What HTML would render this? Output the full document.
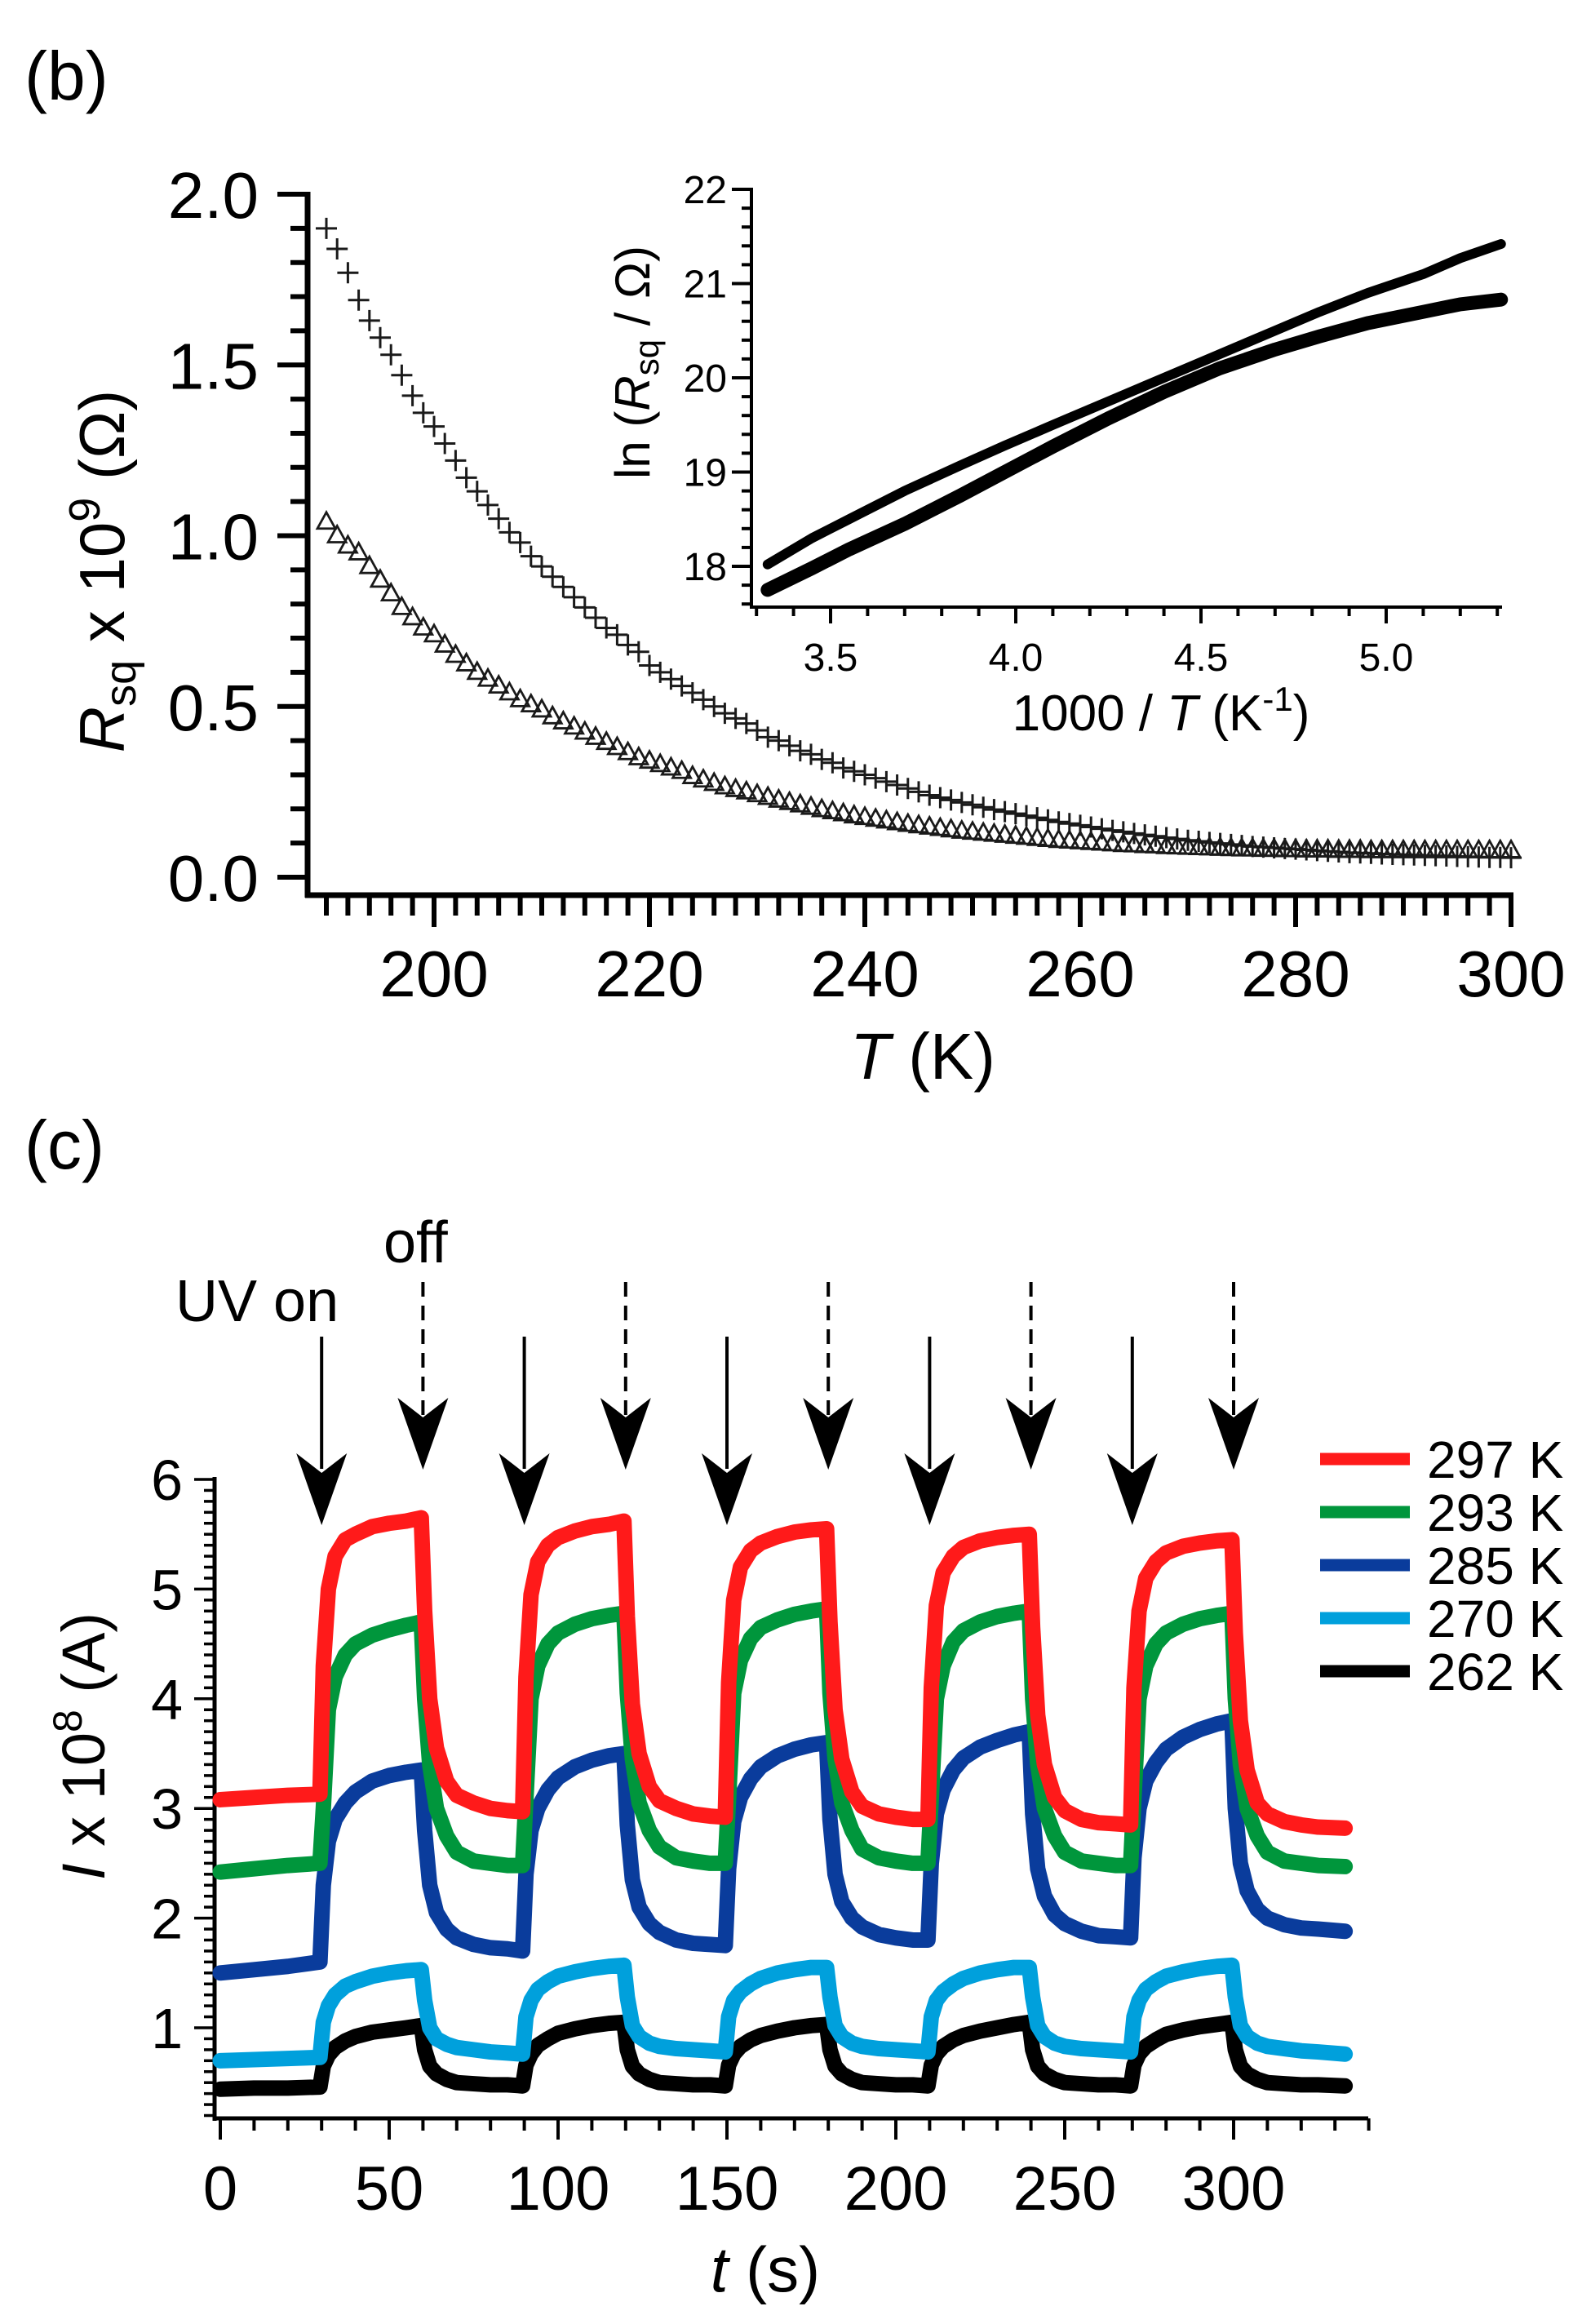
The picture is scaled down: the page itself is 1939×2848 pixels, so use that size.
<!DOCTYPE html>
<html><head><meta charset="utf-8">
<style>
html,body{margin:0;padding:0;background:#fff;}
svg{display:block;font-family:"Liberation Sans",Arial,sans-serif;}
</style></head>
<body>
<svg id="fig" width="1939" height="2848" viewBox="0 0 1939 2848" xmlns="http://www.w3.org/2000/svg">
<rect width="1939" height="2848" fill="#fff"/>
<text x="30" y="122" font-size="84">(b)</text>
<text x="30" y="1432" font-size="84">(c)</text>
<g id="main"></g>
<g id="inset"></g>
<g id="bottom"></g>
</svg>
<script>
// ---------- Panel (b) main data ----------
const mainT = [];
for (let t = 190; t <= 300; t++) mainT.push(t);
const plusR = [1.90,1.84,1.77,1.69,1.63,1.58,1.53,1.47,1.41,1.36,1.32,1.27,1.22,1.17,1.13,1.09,1.05,1.01,0.98,0.94,0.91,0.88,0.85,0.82,0.79,0.76,0.73,0.71,0.68,0.66,0.62,0.60,0.58,0.56,0.54,0.52,0.50,0.48,0.465,0.45,0.43,0.41,0.40,0.385,0.37,0.36,0.345,0.335,0.32,0.31,0.30,0.29,0.28,0.27,0.26,0.25,0.24,0.233,0.226,0.219,0.212,0.205,0.198,0.192,0.186,0.18,0.174,0.168,0.162,0.157,0.152,0.147,0.142,0.137,0.133,0.128,0.124,0.12,0.116,0.112,0.108,0.105,0.102,0.099,0.096,0.093,0.09,0.088,0.086,0.084,0.082,0.08,0.078,0.076,0.074,0.072,0.071,0.07,0.068,0.067,0.066,0.065,0.064,0.063,0.062,0.061,0.06,0.059,0.058,0.058,0.057];
const triR = [1.04,1.00,0.97,0.95,0.91,0.87,0.83,0.79,0.76,0.73,0.71,0.68,0.65,0.625,0.60,0.58,0.56,0.54,0.52,0.505,0.49,0.47,0.455,0.44,0.425,0.41,0.395,0.38,0.365,0.35,0.34,0.33,0.32,0.31,0.295,0.285,0.275,0.265,0.257,0.25,0.242,0.234,0.226,0.219,0.212,0.205,0.198,0.192,0.186,0.18,0.175,0.17,0.165,0.16,0.155,0.151,0.147,0.143,0.139,0.135,0.132,0.129,0.126,0.123,0.12,0.117,0.114,0.111,0.108,0.106,0.104,0.102,0.1,0.098,0.096,0.095,0.093,0.092,0.09,0.089,0.088,0.087,0.086,0.085,0.084,0.083,0.083,0.082,0.082,0.081,0.081,0.08,0.08,0.08,0.079,0.079,0.079,0.078,0.078,0.078,0.078,0.078,0.078,0.078,0.078,0.078,0.078,0.078,0.078,0.078,0.078];
const mainXTicks = ["200","220","240","260","280","300"];
const mainYTicks = ["0.0","0.5","1.0","1.5","2.0"];

// ---------- Panel (b) inset data ----------
const insetX = [3.33,3.45,3.55,3.7,3.85,3.97,4.1,4.25,4.4,4.55,4.7,4.82,4.95,5.1,5.2,5.31];
const insetPlus = [18.02,18.3,18.5,18.8,19.07,19.28,19.5,19.75,20.0,20.25,20.5,20.7,20.9,21.1,21.27,21.42];
const insetTri = [17.75,17.98,18.18,18.45,18.75,19.0,19.27,19.57,19.85,20.1,20.3,20.44,20.58,20.7,20.78,20.83];
const insetXTicks = ["3.5","4.0","4.5","5.0"];
const insetYTicks = ["18","19","20","21","22"];

// ---------- Panel (c) data ----------
const times = [0,10,20,29.5,
30.5,32,34,37,40,45,50,55,59.5, 60.5,62,64,67,70,75,80,85,89.5,
90.5,92,94,97,100,105,110,115,119.5, 120.5,122,124,127,130,135,140,145,149.5,
150.5,152,154,157,160,165,170,175,179.5, 180.5,182,184,187,190,195,200,205,209.5,
210.5,212,214,217,220,225,230,235,239.5, 240.5,242,244,247,250,255,260,265,269.5,
270.5,272,274,277,280,285,290,295,299.5, 300.5,302,304,307,310,315,320,325,333];
const i297 = [3.08,3.1,3.12,3.13,
4.3,5.0,5.3,5.45,5.5,5.57,5.6,5.62,5.65, 4.8,4.0,3.55,3.25,3.12,3.05,3.0,2.98,2.97,
4.2,4.95,5.25,5.4,5.47,5.53,5.57,5.59,5.62, 4.75,3.95,3.5,3.2,3.07,3.0,2.95,2.93,2.92,
4.15,4.9,5.2,5.35,5.42,5.48,5.52,5.54,5.55, 4.7,3.9,3.45,3.15,3.02,2.95,2.92,2.9,2.9,
4.1,4.85,5.15,5.3,5.38,5.44,5.47,5.49,5.5, 4.65,3.85,3.4,3.1,2.98,2.9,2.87,2.86,2.85,
4.1,4.8,5.1,5.25,5.33,5.39,5.42,5.44,5.45, 4.6,3.8,3.35,3.05,2.95,2.88,2.85,2.83,2.82];
const i293 = [2.42,2.45,2.48,2.5,
3.0,3.9,4.2,4.4,4.5,4.58,4.63,4.67,4.7, 4.0,3.4,3.0,2.75,2.6,2.52,2.5,2.48,2.48,
3.1,4.0,4.3,4.5,4.6,4.68,4.73,4.76,4.78, 4.05,3.45,3.05,2.8,2.65,2.55,2.52,2.5,2.5,
3.1,4.05,4.35,4.55,4.65,4.72,4.77,4.8,4.82, 4.05,3.45,3.05,2.8,2.63,2.55,2.52,2.5,2.5,
3.1,4.0,4.3,4.52,4.62,4.7,4.75,4.78,4.8, 4.0,3.4,3.0,2.75,2.6,2.52,2.5,2.48,2.48,
3.1,4.0,4.3,4.5,4.6,4.68,4.73,4.76,4.78, 4.0,3.4,3.0,2.75,2.6,2.52,2.5,2.48,2.47];
const i285 = [1.5,1.53,1.56,1.6,
2.3,2.7,2.9,3.05,3.15,3.25,3.3,3.33,3.35, 2.8,2.3,2.05,1.9,1.82,1.76,1.73,1.72,1.7,
2.4,2.8,3.0,3.17,3.28,3.38,3.44,3.48,3.5, 2.85,2.35,2.1,1.95,1.87,1.8,1.77,1.76,1.75,
2.45,2.88,3.1,3.27,3.38,3.48,3.54,3.58,3.6, 2.9,2.4,2.15,2.0,1.92,1.85,1.82,1.8,1.8,
2.5,2.95,3.17,3.35,3.46,3.56,3.62,3.67,3.7, 2.95,2.45,2.2,2.03,1.95,1.88,1.84,1.83,1.82,
2.55,3.0,3.25,3.42,3.54,3.65,3.72,3.77,3.8, 3.0,2.5,2.25,2.08,2.0,1.94,1.91,1.9,1.88];
const i270 = [0.7,0.71,0.72,0.73,
1.05,1.2,1.3,1.38,1.42,1.47,1.5,1.52,1.53, 1.25,1.0,0.9,0.85,0.82,0.8,0.78,0.77,0.76,
1.1,1.25,1.35,1.42,1.47,1.51,1.54,1.56,1.57, 1.28,1.02,0.92,0.86,0.83,0.81,0.8,0.79,0.78,
1.1,1.25,1.33,1.4,1.45,1.5,1.53,1.55,1.55, 1.28,1.02,0.92,0.86,0.83,0.81,0.8,0.79,0.78,
1.1,1.25,1.33,1.4,1.45,1.5,1.53,1.55,1.55, 1.28,1.02,0.92,0.86,0.83,0.81,0.8,0.79,0.78,
1.1,1.25,1.35,1.42,1.47,1.51,1.54,1.56,1.57, 1.28,1.02,0.92,0.86,0.83,0.81,0.79,0.78,0.76];
const i262 = [0.44,0.45,0.45,0.46,
0.65,0.75,0.82,0.88,0.92,0.96,0.98,1.0,1.02, 0.8,0.65,0.58,0.53,0.5,0.49,0.48,0.48,0.47,
0.66,0.76,0.84,0.9,0.95,0.99,1.02,1.04,1.05, 0.8,0.65,0.58,0.53,0.5,0.49,0.48,0.48,0.47,
0.66,0.76,0.83,0.89,0.93,0.97,1.0,1.02,1.03, 0.8,0.65,0.58,0.53,0.5,0.49,0.48,0.48,0.47,
0.66,0.76,0.83,0.89,0.93,0.97,1.0,1.03,1.05, 0.8,0.65,0.58,0.53,0.5,0.49,0.48,0.48,0.47,
0.66,0.76,0.83,0.89,0.94,0.98,1.01,1.03,1.05, 0.8,0.65,0.58,0.53,0.5,0.49,0.48,0.48,0.47];
const seriesNames = ["297 K","293 K","285 K","270 K","262 K"];
const seriesColors = ["#ff1a1a","#00963c","#0a3c9c","#00a0dc","#000000"];
const onTimes = [30,90,150,210,270];
const offTimes = [60,120,180,240,300];
const bottomXTicks = ["0","50","100","150","200","250","300"];
const bottomYTicks = ["1","2","3","4","5","6"];

const NS = "http://www.w3.org/2000/svg";
function mk(parent, tag, attrs, txt) {
  const e = document.createElementNS(NS, tag);
  for (const k in attrs) e.setAttribute(k, attrs[k]);
  if (txt !== undefined) e.textContent = txt;
  parent.appendChild(e);
  return e;
}

// ===== main panel =====
(function(){
  const g = document.getElementById('main');
  const X = t => 532 + (t - 200) * 13.2;
  const Y = r => 1075 - r * 418.5;
  let e;
  e = mk(g, 'line', {x1:377, y1:235, x2:377, y2:1100, stroke:'#000','stroke-width':7});
   
  e = mk(g, 'line', {x1:374, y1:1097, x2:1855, y2:1097, stroke:'#000','stroke-width':7});
   
  for (let i = 0; i <= 20; i++) {
    const y = Y(i * 0.1), maj = i % 5 === 0;
    mk(g, 'line', {x1: maj ? 340 : 356, y1:y, x2:377, y2:y, stroke:'#000','stroke-width':6});
  }
  mainYTicks.forEach(s => {
    e = mk(g, 'text', {x:317, y:Y(parseFloat(s)) + 29, 'font-size':80, 'text-anchor':'end'}, s);
     
  });
  for (let t = 190; t <= 300; t += 2) {
    const maj = t % 20 === 0;
    mk(g, 'line', {x1:X(t), y1:1097, x2:X(t), y2: maj ? 1136 : 1122, stroke:'#000','stroke-width':6});
  }
  mainXTicks.forEach(s => {
    e = mk(g, 'text', {x:X(parseFloat(s)), y:1221, 'font-size':80, 'text-anchor':'middle'}, s);
     
  });
  e = mk(g, 'text', {x:1131, y:1322, 'font-size':80, 'text-anchor':'middle'});
  e.innerHTML = '<tspan font-style="italic">T</tspan> (K)';
   
  e = mk(g, 'text', {x:0, y:0, 'font-size':78, 'text-anchor':'middle', transform:'translate(152,700) rotate(-90)'});
  e.innerHTML = '<tspan font-style="italic">R</tspan><tspan font-size="54" dy="14">sq</tspan><tspan dy="-14"> x 10</tspan><tspan font-size="54" dy="-30">9</tspan><tspan dy="30">  (Ω)</tspan>';
   
  const gp = mk(g, 'g', {stroke:'#1a1a1a','stroke-width':3, fill:'none'});
   
  mainT.forEach((t, i) => {
    const x = X(t), y = Y(plusR[i]);
    const p = mk(gp, 'path', {d:`M${x-13},${y}H${x+13}M${x},${y-13}V${y+13}`});
     
  });
  const gt = mk(g, 'g', {stroke:'#1a1a1a','stroke-width':2.8, fill:'none'});
   
  mainT.forEach((t, i) => {
    const x = X(t), y = Y(triR[i]);
    const p = mk(gt, 'path', {d:`M${x},${y-12}L${x+11},${y+8}L${x-11},${y+8}Z`});
     
  });
})();

// ===== inset =====
(function(){
  const g = document.getElementById('inset');
  const X = v => 1018 + (v - 3.5) * 454;
  const Y = v => 232 + (22 - v) * 115.5;
  let e;
  e = mk(g, 'line', {x1:921, y1:230, x2:921, y2:746, stroke:'#000','stroke-width':4});
   
  e = mk(g, 'line', {x1:919, y1:744, x2:1841, y2:744, stroke:'#000','stroke-width':4});
   
  for (let i = 0; i <= 22; i++) {
    const v = 17.6 + i * 0.2, maj = Math.abs(v - Math.round(v)) < 0.01;
    mk(g, 'line', {x1: maj ? 897 : 909, y1:Y(v), x2:921, y2:Y(v), stroke:'#000','stroke-width':4});
  }
  insetYTicks.forEach(s => {
    e = mk(g, 'text', {x:891, y:Y(parseFloat(s)) + 17, 'font-size':48, 'text-anchor':'end'}, s);
     
  });
  for (let i = 0; i <= 20; i++) {
    const v = 3.3 + i * 0.1, maj = (i + 3) % 5 === 0;
    mk(g, 'line', {x1:X(v), y1:744, x2:X(v), y2: maj ? 764 : 755, stroke:'#000','stroke-width':4});
  }
  insetXTicks.forEach(s => {
    e = mk(g, 'text', {x:X(parseFloat(s)), y:822, 'font-size':48, 'text-anchor':'middle'}, s);
     
  });
  e = mk(g, 'text', {x:1423, y:895, 'font-size':62, 'text-anchor':'middle'});
  e.innerHTML = '1000 / <tspan font-style="italic">T</tspan> (K<tspan font-size="42" dy="-24">-1</tspan><tspan dy="24">)</tspan>';
   
  e = mk(g, 'text', {x:0, y:0, 'font-size':60, 'text-anchor':'middle', transform:'translate(796,444) rotate(-90)'});
  e.innerHTML = 'ln (<tspan font-style="italic">R</tspan><tspan font-size="42" dy="11">sq</tspan><tspan dy="-11"> / Ω)</tspan>';
   
  const ptsT = insetX.map((v, i) => X(v) + ',' + Y(insetTri[i])).join(' ');
  e = mk(g, 'polyline', {points:ptsT, fill:'none', stroke:'#000', 'stroke-width':17, 'stroke-linejoin':'round','stroke-linecap':'round'});
   
  const ptsP = insetX.map((v, i) => X(v) + ',' + Y(insetPlus[i])).join(' ');
  e = mk(g, 'polyline', {points:ptsP, fill:'none', stroke:'#000', 'stroke-width':12, 'stroke-linejoin':'round','stroke-linecap':'round'});
   
})();

// ===== panel c =====
(function(){
  const g = document.getElementById('bottom');
  const X = t => 270 + t * 4.14;
  const Y = v => 2485 - (v - 1) * 134.4;
  let e;
  e = mk(g, 'line', {x1:263, y1:1810, x2:263, y2:2599, stroke:'#000','stroke-width':5});
   
  e = mk(g, 'line', {x1:261, y1:2596, x2:1677, y2:2596, stroke:'#000','stroke-width':5});
   
  for (let i = 2; i <= 60; i++) {
    const v = i / 10, maj = i % 10 === 0;
    mk(g, 'line', {x1: maj ? 238 : 250, y1:Y(v), x2:263, y2:Y(v), stroke:'#000','stroke-width':3.5});
  }
  bottomYTicks.forEach(s => {
    e = mk(g, 'text', {x:224, y:Y(parseFloat(s)) + 25, 'font-size':70, 'text-anchor':'end'}, s);
     
  });
  for (let t = 0; t <= 340; t += 10) {
    const maj = t % 50 === 0;
    mk(g, 'line', {x1:X(t), y1:2596, x2:X(t), y2: maj ? 2622 : 2611, stroke:'#000','stroke-width':4});
  }
  bottomXTicks.forEach(s => {
    e = mk(g, 'text', {x:X(parseFloat(s)), y:2708, 'font-size':76, 'text-anchor':'middle'}, s);
     
  });
  e = mk(g, 'text', {x:938, y:2808, 'font-size':78, 'text-anchor':'middle'});
  e.innerHTML = '<tspan font-style="italic">t</tspan> (s)';
   
  e = mk(g, 'text', {x:0, y:0, 'font-size':74, 'text-anchor':'middle', transform:'translate(128,2140) rotate(-90)'});
  e.innerHTML = '<tspan font-style="italic">I</tspan> x 10<tspan font-size="50" dy="-28">8</tspan><tspan dy="28"> (A)</tspan>';
   
  const all = [i297, i293, i285, i270, i262];
  for (let k = all.length - 1; k >= 0; k--) {
    const pts = times.map((t, i) => X(t) + ',' + Y(all[k][i])).join(' ');
    e = mk(g, 'polyline', {points:pts, fill:'none', stroke:seriesColors[k], 'stroke-width':19, 'stroke-linejoin':'round','stroke-linecap':'round'});
    
    
  }
  seriesNames.forEach((n, k) => {
    const y = 1788 + k * 65;
    e = mk(g, 'line', {x1:1618, y1:y, x2:1728, y2:y, stroke:seriesColors[k], 'stroke-width':15});
     
    e = mk(g, 'text', {x:1749, y:y + 23, 'font-size':64}, n);
     
  });
  onTimes.forEach(t => {
    const x = X(t);
    e = mk(g, 'g', {});
     
    mk(e, 'line', {x1:x, y1:1638, x2:x, y2:1800, stroke:'#000','stroke-width':4});
    mk(e, 'path', {d:`M${x},1869L${x-31},1781L${x},1805L${x+31},1781Z`, fill:'#000'});
  });
  offTimes.forEach(t => {
    const x = X(t);
    e = mk(g, 'g', {});
     
    mk(e, 'line', {x1:x, y1:1571, x2:x, y2:1735, stroke:'#000','stroke-width':4,'stroke-dasharray':'18 11'});
    mk(e, 'path', {d:`M${x},1801L${x-31},1713L${x},1737L${x+31},1713Z`, fill:'#000'});
  });
  e = mk(g, 'text', {x:215, y:1619, 'font-size':72}, 'UV on');
   
  e = mk(g, 'text', {x:470, y:1547, 'font-size':72}, 'off');
   
})();
</script>
</body></html>
